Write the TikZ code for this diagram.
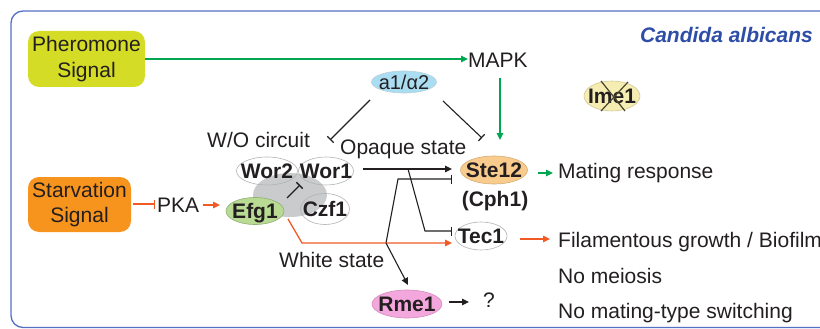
\documentclass[tikz,border=0pt]{standalone}
\usepackage{fontspec}
\setmainfont{Liberation Sans}
\usetikzlibrary{arrows.meta,shapes.geometric}
\definecolor{txt}{HTML}{231F20}
\definecolor{pherc}{HTML}{D5DC26}
\definecolor{starvc}{HTML}{F7941E}
\definecolor{a1c}{HTML}{ABDDF2}
\definecolor{imec}{HTML}{F6EDB2}
\definecolor{efgc}{HTML}{B8DA92}
\definecolor{stec}{HTML}{F9CB8C}
\definecolor{rmec}{HTML}{F4A7DC}
\definecolor{blobc}{HTML}{C9CBCD}
\definecolor{grn}{HTML}{00A650}
\definecolor{org}{HTML}{F15A24}
\definecolor{bord}{HTML}{5470C5}
\definecolor{ttl}{HTML}{2E4DA7}
\definecolor{xline}{HTML}{4A4630}
\begin{document}
\begin{tikzpicture}[x=1pt,y=-1pt,
  every node/.style={font=\fontsize{21}{26}\selectfont, text=txt, inner sep=0pt},
  sig/.style={rectangle, rounded corners=11pt, align=center},
  gene/.style={ellipse, inner sep=0pt, draw=gray!60, line width=0.6pt},
  glbl/.style={font=\fontsize{21}{26}\selectfont\bfseries, text=txt, inner sep=0pt, text depth=0pt},
  act/.style={-{Triangle[length=7pt,width=6.5pt]}, line width=1.1pt, draw=txt},
  inh/.style={-{Bar[width=9pt,line width=1.3pt]}, line width=1.1pt, draw=txt},
]
\useasboundingbox (0,0) rectangle (820,329);
\clip (0,0) rectangle (820,329);
\draw[bord, line width=1.3pt, rounded corners=12pt] (11,11) rectangle (845,327.5);

% title
\node[anchor=base east, font=\fontsize{21}{26}\selectfont\bfseries\itshape, text=ttl] (title) at (813,43) {Candida albicans};

% signal boxes
\node[sig, fill=pherc, minimum width=117pt, minimum height=56pt] (pher) at (86.5,59) {Pheromone\\Signal};
\node[sig, fill=starvc, minimum width=103pt, minimum height=55pt, font=\fontsize{21}{25}\selectfont] (starv) at (79.5,204.5) {Starvation\\Signal};

% plain labels
\node[anchor=base west] (mapk) at (468,68) {MAPK};
\node[anchor=base west] (pka) at (157,212) {PKA};
\node[anchor=base west] (wo) at (207,147) {W/O circuit};
\node[anchor=base west] (opq) at (340,154) {Opaque state};
\node[anchor=base west] (white) at (279,267) {White state};
\node[anchor=base, font=\fontsize{21}{26}\selectfont\bfseries] (cph1) at (495,206) {(Cph1)};
\node[anchor=base west] (mating) at (558,178) {Mating response};
\node[anchor=base west] (fil) at (558,247) {Filamentous growth / Biofilm};
\node[anchor=base west] (nomei) at (558,283) {No meiosis};
\node[anchor=base west] (noswi) at (558,318) {No mating-type switching};
\node[anchor=base west] (qm) at (483,307) {?};

% gray blob
\node[ellipse, fill=blobc, minimum width=74pt, minimum height=44pt] (blob) at (290,195) {};

% genes
\node[gene, fill=a1c, draw=a1c!80!black!60, minimum width=65pt, minimum height=22pt,
  label={[glbl, font=\fontsize{20}{24}\selectfont]center:a1/α2}] (a1) at (404,82) {};
\node[gene, fill=imec, draw=imec!85!black, minimum width=56pt, minimum height=30pt,
  label={[glbl]center:Ime1}] (ime1) at (612,96) {};
\draw[xline, line width=1.2pt] (ime1) ++(-11,-15) -- ++(24,30);
\draw[xline, line width=1.2pt] (ime1) ++(16,-14) -- ++(-27,29);
\node[gene, minimum width=61pt, minimum height=28pt, label={[glbl]center:Wor2}] (wor2) at (267,171) {};
\node[gene, minimum width=55pt, minimum height=28pt, label={[glbl]center:Wor1}] (wor1) at (326,171) {};
\node[gene, fill=efgc, draw=efgc!80!black, minimum width=58pt, minimum height=27pt, label={[glbl]center:Efg1}] (efg1) at (255,211) {};
\node[gene, minimum width=49pt, minimum height=31pt, label={[glbl]center:Czf1}] (czf1) at (325,209) {};
\node[gene, fill=stec, draw=stec!85!black, minimum width=67pt, minimum height=28pt, label={[glbl]center:Ste12}] (ste12) at (494,170) {};
\node[gene, minimum width=52pt, minimum height=28pt, label={[glbl]center:Tec1}] (tec1) at (481,236) {};
\node[gene, fill=rmec, draw=rmec!85!black, minimum width=70pt, minimum height=28pt, label={[glbl]center:Rme1}] (rme1) at (407,304) {};

% coordinates
\coordinate (mkS) at (500,78);
\coordinate (stN) at (500,140);
\coordinate (a1L) at (370,100);
\coordinate (woE) at (330,140);
\coordinate (a1R) at (443,101);
\coordinate (stNW) at (482,138);
\coordinate (w1E) at (363,169);
\coordinate (stW) at (452,169);
\coordinate (brA) at (408,169);
\coordinate (brB) at (425,231);
\coordinate (tcW) at (452,231);
\coordinate (jn) at (386,243);
\coordinate (brC) at (398,179);
\coordinate (stW2) at (452,179);
\coordinate (efS) at (288,219);
\coordinate (efC) at (302,243);
\coordinate (tcW2) at (452,243);
\coordinate (rmN) at (408,285);
\coordinate (rmE) at (449,302);
\coordinate (qW) at (469,302);
\coordinate (stE) at (538,173);
\coordinate (matW) at (553,173);
\coordinate (tcE) at (520,239);
\coordinate (filW) at (550,239);
\coordinate (svE) at (133,204);
\coordinate (pkW) at (155,204);
\coordinate (pkE) at (203,205);
\coordinate (efW) at (220,205);
\coordinate (inA) at (287,198);
\coordinate (inB) at (300,185);

% connectors
\draw[act, draw=grn, line width=1.3pt, -{Triangle[length=7pt,width=6.5pt]}] (pher.east) -- (pher.east -| mapk.west);
\draw[act, draw=grn, fill=grn, line width=1.3pt] (mkS) -- (stN);
\draw[inh] (a1L) -- (woE);
\draw[inh] (a1R) -- (stNW);
\draw[act, line width=1.6pt] (w1E) -- (stW);
\draw[inh] (brA) -- (brB) -- (tcW);
\draw[inh] (jn) -- (brC) -- (stW2);
\draw[act, draw=org, line width=1.3pt] (efS) -- (efC) -- (tcW2);
\draw[act] (jn) -- (rmN);
\draw[act, line width=1.3pt] (rmE) -- (qW);
\draw[act, draw=grn, line width=1.3pt] (stE) -- (matW);
\draw[act, draw=org, line width=1.3pt] (tcE) -- (filW);
\draw[inh, draw=org, line width=1.3pt] (svE) -- (pkW);
\draw[act, draw=org, line width=1.3pt] (pkE) -- (efW);
\draw[inh] (inA) -- (inB);
\end{tikzpicture}
\end{document}
